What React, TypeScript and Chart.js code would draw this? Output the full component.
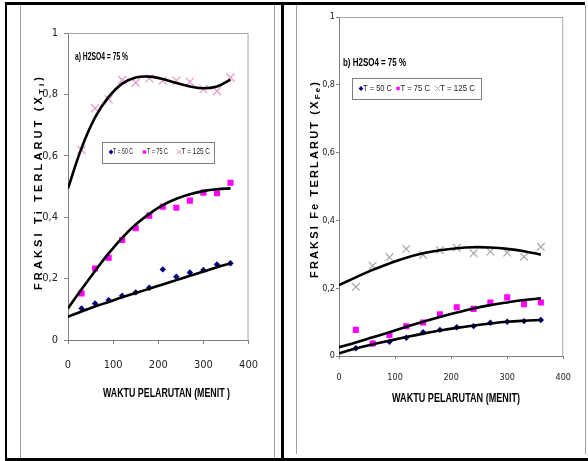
import React, { useEffect, useRef } from 'react';
import { Chart, registerables } from 'chart.js';
import { drawPoint } from 'chart.js/helpers';

Chart.register(...registerables);

const SANS = "'Liberation Sans', Arial, Helvetica, sans-serif";
const NARROW = "'Liberation Sans Narrow', 'Arial Narrow', 'DejaVu Sans Condensed', sans-serif";

// ---------- data ----------
const sampleMinutes = [30, 60, 90, 120, 150, 180, 210, 240, 270, 300, 330, 360];
const trendMinutes = [0, 30, 60, 90, 120, 150, 180, 210, 240, 270, 300, 330, 360];
const seriesLabels = ['T = 50 C', 'T = 75 C', 'T = 125 C'];

// Panel a) Ti
const tiT50 = [0.103, 0.119, 0.13, 0.144, 0.155, 0.17, 0.23, 0.206, 0.22, 0.228, 0.246, 0.25];
const tiT75 = [0.152, 0.233, 0.268, 0.326, 0.364, 0.405, 0.434, 0.431, 0.454, 0.48, 0.478, 0.512];
const tiT125 = [0.619, 0.755, 0.784, 0.847, 0.838, 0.852, 0.845, 0.845, 0.841, 0.817, 0.811, 0.855];
const tiTrend50 = [0.076, 0.093, 0.109, 0.124, 0.139, 0.153, 0.167, 0.181, 0.195, 0.209, 0.223, 0.237, 0.25];
const tiTrend75 = [0.103, 0.165, 0.225, 0.282, 0.333, 0.376, 0.411, 0.439, 0.46, 0.475, 0.485, 0.491, 0.494];
const tiTrend125 = [0.494, 0.625, 0.725, 0.792, 0.835, 0.855, 0.858, 0.85, 0.837, 0.826, 0.82, 0.826, 0.848];

// Panel b) Fe
const feT50 = [0.023, 0.037, 0.042, 0.054, 0.07, 0.077, 0.085, 0.088, 0.098, 0.101, 0.103, 0.106];
const feT75 = [0.077, 0.037, 0.062, 0.088, 0.099, 0.123, 0.144, 0.139, 0.158, 0.173, 0.153, 0.158];
const feT125 = [0.204, 0.266, 0.291, 0.316, 0.298, 0.313, 0.319, 0.303, 0.308, 0.305, 0.293, 0.322];
const feTrend50 = [0.008, 0.022, 0.034, 0.045, 0.056, 0.066, 0.075, 0.083, 0.09, 0.096, 0.101, 0.104, 0.106];
const feTrend75 = [0.026, 0.04, 0.055, 0.07, 0.086, 0.101, 0.115, 0.128, 0.14, 0.15, 0.158, 0.165, 0.17];
const feTrend125 = [0.209, 0.232, 0.254, 0.273, 0.29, 0.303, 0.312, 0.318, 0.321, 0.32, 0.316, 0.309, 0.299];

const xMin = 0, xMax = 400, xStep = 100;
const yMin = 0, yMax = 1, yStep = 0.2;

const fmtY = (v: number) => (v === 0 ? '0' : v === 1 ? '1' : v.toFixed(1).replace('.', ','));

type MarkerStyle = { pointStyle: any; color: string; radius: number; borderWidth: number; fill: boolean };

type PanelCfg = {
  left: number; top: number; w: number; h: number;
  yAxisWidth: number; xAxisHeight: number; padTop: number; padRight: number;
  tickSize: number; yTickPad: number; yTickLen: number; xTickPad: number; xTickLen: number;
  points: number[][]; trends: number[][]; markers: MarkerStyle[];
  subtitle: { text: string; x: number; y: number; w: number };
  xTitle: { text: string; x: number; y: number; w: number };
  yTitle: { main: string; sub: string; cx: number; cy: number; len: number };
  legend: { x: number; y: number; w: number; h: number; cy: number; items: { mx: number; tx: number; tw: number }[] };
};

const navy: MarkerStyle = { pointStyle: 'rectRot', color: '#000080', radius: 3.2, borderWidth: 0, fill: true };
const magenta: MarkerStyle = { pointStyle: 'rect', color: '#ff00ff', radius: 4.3, borderWidth: 0, fill: true };

const panelA: PanelCfg = {
  left: 21, top: 5, w: 252, h: 452,
  yAxisWidth: 47, xAxisHeight: 117, padTop: 28, padRight: 17,
  tickSize: 11, yTickPad: 6, yTickLen: 4, xTickPad: 15, xTickLen: 4,
  points: [tiT50, tiT75, tiT125], trends: [tiTrend50, tiTrend75, tiTrend125],
  markers: [navy, magenta, { pointStyle: 'crossRot', color: '#e89ccb', radius: 5.6, borderWidth: 1.3, fill: false }],
  subtitle: { text: 'a) H2SO4 = 75 %', x: 75, y: 57, w: 53 },
  xTitle: { text: 'WAKTU PELARUTAN (MENIT )', x: 103, y: 393, w: 127 },
  yTitle: { main: 'FRAKSI Ti TERLARUT (X', sub: 'Ti', cx: 39, cy: 183.5, len: 213 },
  legend: { x: 102, y: 142, w: 112, h: 21, cy: 152, items: [{ mx: 111, tx: 113, tw: 20 }, { mx: 144.5, tx: 147, tw: 21 }, { mx: 179, tx: 181.5, tw: 28.5 }] },
};

const panelB: PanelCfg = {
  left: 297, top: 5, w: 287, h: 450,
  yAxisWidth: 42, xAxisHeight: 99, padTop: 12, padRight: 18,
  tickSize: 9, yTickPad: 1, yTickLen: 3, xTickPad: 13, xTickLen: 3,
  points: [feT50, feT75, feT125], trends: [feTrend50, feTrend75, feTrend125],
  markers: [navy, magenta, { pointStyle: 'crossRot', color: '#a8a8a8', radius: 5.4, borderWidth: 1.2, fill: false }],
  subtitle: { text: 'b) H2SO4 = 75 %', x: 343, y: 63, w: 63 },
  xTitle: { text: 'WAKTU PELARUTAN (MENIT)', x: 392, y: 398, w: 128 },
  yTitle: { main: 'FRAKSI Fe TERLARUT (X', sub: 'Fe', cx: 315, cy: 180, len: 196 },
  legend: { x: 352, y: 78, w: 129, h: 21, cy: 88.5, items: [{ mx: 361, tx: 363, tw: 29 }, { mx: 398, tx: 400.5, tw: 29.5 }, { mx: 437.5, tx: 440, tw: 35 }] },
};

function fitText(ctx: CanvasRenderingContext2D, text: string, x: number, y: number, w: number, font: string, color: string) {
  ctx.save();
  ctx.font = font;
  const m = ctx.measureText(text).width;
  ctx.translate(x, y);
  ctx.scale(w / m, 1);
  ctx.fillStyle = color;
  ctx.textBaseline = 'middle';
  ctx.textAlign = 'left';
  ctx.fillText(text, 0, 0);
  ctx.restore();
}

function drawYTitle(ctx: CanvasRenderingContext2D, t: PanelCfg['yTitle'], ox: number, oy: number) {
  const big = `bold 11px ${SANS}`;
  const small = `bold 8px ${SANS}`;
  const chars: { c: string; f: string; dy: number; w: number }[] = [];
  ctx.save();
  for (const c of t.main) { ctx.font = big; chars.push({ c, f: big, dy: 0, w: ctx.measureText(c).width }); }
  for (const c of t.sub) { ctx.font = small; chars.push({ c, f: small, dy: 3, w: ctx.measureText(c).width }); }
  ctx.font = big; chars.push({ c: ')', f: big, dy: 0, w: ctx.measureText(')').width });
  const base = chars.reduce((s, ch) => s + ch.w, 0);
  const sp = (t.len - base) / (chars.length - 1);
  ctx.translate(t.cx - ox, t.cy - oy);
  ctx.rotate(-Math.PI / 2);
  ctx.fillStyle = '#000';
  ctx.textBaseline = 'middle';
  ctx.textAlign = 'left';
  let x = -t.len / 2;
  for (const ch of chars) {
    ctx.font = ch.f;
    ctx.fillText(ch.c, x, ch.dy);
    x += ch.w + sp;
  }
  ctx.restore();
}

function makeDecor(p: PanelCfg) {
  return {
    id: 'decor',
    beforeDatasetsDraw(chart: any) {
      const { ctx, chartArea: a } = chart;
      ctx.save();
      ctx.strokeStyle = '#a6a6a6';
      ctx.lineWidth = 1;
      ctx.beginPath();
      ctx.moveTo(a.left, a.top + 0.5);
      ctx.lineTo(a.right - 0.5, a.top + 0.5);
      ctx.lineTo(a.right - 0.5, a.bottom);
      ctx.stroke();
      ctx.restore();
    },
    afterDraw(chart: any) {
      const ctx: CanvasRenderingContext2D = chart.ctx;
      const ox = p.left, oy = p.top;
      fitText(ctx, p.subtitle.text, p.subtitle.x - ox, p.subtitle.y - oy, p.subtitle.w, `bold 10px ${SANS}`, '#000');
      fitText(ctx, p.xTitle.text, p.xTitle.x - ox, p.xTitle.y - oy, p.xTitle.w, `bold 13px ${SANS}`, '#000');
      drawYTitle(ctx, p.yTitle, ox, oy);
      // legend
      const L = p.legend;
      ctx.save();
      ctx.fillStyle = '#fff';
      ctx.fillRect(L.x - ox, L.y - oy, L.w, L.h);
      ctx.strokeStyle = '#7f7f7f';
      ctx.lineWidth = 1;
      ctx.strokeRect(L.x - ox + 0.5, L.y - oy + 0.5, L.w, L.h);
      L.items.forEach((it, i) => {
        const m = p.markers[i];
        ctx.save();
        ctx.fillStyle = m.color;
        ctx.strokeStyle = m.color;
        ctx.lineWidth = m.fill ? 0 : 1;
        drawPoint(ctx, { pointStyle: m.pointStyle, rotation: 0, radius: m.fill ? 2.4 : 3.5, borderWidth: m.fill ? 0 : 1 } as any, it.mx - ox, L.cy - oy);
        ctx.restore();
        fitText(ctx, seriesLabels[i], it.tx - ox, L.cy - oy, it.tw, `9px ${SANS}`, '#222');
      });
      ctx.restore();
    },
  };
}

function buildConfig(p: PanelCfg): any {
  const datasets: any[] = [];
  p.trends.forEach((vals, i) => {
    datasets.push({
      label: 'Trend ' + seriesLabels[i],
      data: trendMinutes.map((x, k) => ({ x, y: vals[k] })),
      showLine: true,
      borderColor: '#000',
      borderWidth: 2.6,
      pointRadius: 0,
      tension: 0.4,
      fill: false,
      order: 0,
    });
  });
  p.points.forEach((vals, i) => {
    const m = p.markers[i];
    datasets.push({
      label: seriesLabels[i],
      data: sampleMinutes.map((x, k) => ({ x, y: vals[k] })),
      showLine: false,
      pointStyle: m.pointStyle,
      pointRadius: m.radius,
      pointBackgroundColor: m.color,
      pointBorderColor: m.color,
      pointBorderWidth: m.borderWidth,
      order: 1 + (2 - i),
    });
  });
  const tickFont = { family: NARROW, size: p.tickSize };
  return {
    type: 'scatter',
    data: { datasets },
    options: {
      responsive: false,
      animation: false,
      events: [],
      layout: { padding: { top: p.padTop, right: p.padRight, left: 0, bottom: 0 } },
      plugins: { legend: { display: false }, tooltip: { enabled: false }, title: { display: false } },
      scales: {
        x: {
          type: 'linear', min: xMin, max: xMax,
          ticks: { stepSize: xStep, color: '#222', font: tickFont, padding: p.xTickPad, maxRotation: 0 },
          grid: { drawOnChartArea: false, drawTicks: true, tickLength: p.xTickLen, color: '#808080' },
          border: { color: '#808080', width: 1 },
          afterFit: (s: any) => { s.height = p.xAxisHeight; },
        },
        y: {
          type: 'linear', min: yMin, max: yMax,
          ticks: { stepSize: yStep, color: '#222', font: tickFont, padding: p.yTickPad, callback: (v: any) => fmtY(Number(v)) },
          grid: { drawOnChartArea: false, drawTicks: true, tickLength: p.yTickLen, color: '#808080' },
          border: { color: '#808080', width: 1 },
          afterFit: (s: any) => { s.width = p.yAxisWidth; },
        },
      },
    },
    plugins: [makeDecor(p)],
  };
}

function Panel({ cfg }: { cfg: PanelCfg }) {
  const ref = useRef<HTMLCanvasElement>(null);
  useEffect(() => {
    const chart = new Chart(ref.current as HTMLCanvasElement, buildConfig(cfg));
    return () => chart.destroy();
  }, [cfg]);
  return (
    <canvas
      ref={ref}
      width={cfg.w}
      height={cfg.h}
      style={{ position: 'absolute', left: cfg.left, top: cfg.top, width: cfg.w, height: cfg.h }}
    />
  );
}

const line = (l: number, t: number, w: number, h: number, c: string) => (
  <div style={{ position: 'absolute', left: l, top: t, width: w, height: h, background: c }} />
);

export default function App() {
  return (
    <div style={{ position: 'fixed', left: 0, top: 0, width: 588, height: 461, background: '#fff', overflow: 'hidden' }}>
      {line(20, 4, 1, 455, '#a0a0a0')}
      {line(274, 4, 1, 455, '#a0a0a0')}
      {line(296, 5, 1, 449, '#a0a0a0')}
      {line(585, 5, 1, 449, '#a0a0a0')}
      <Panel cfg={panelA} />
      <Panel cfg={panelB} />
      {line(5, 2, 580, 3, '#000')}
      {line(5, 2, 2, 459, '#000')}
      {line(281, 2, 3, 459, '#000')}
      {line(5, 458, 583, 3, '#000')}
    </div>
  );
}
